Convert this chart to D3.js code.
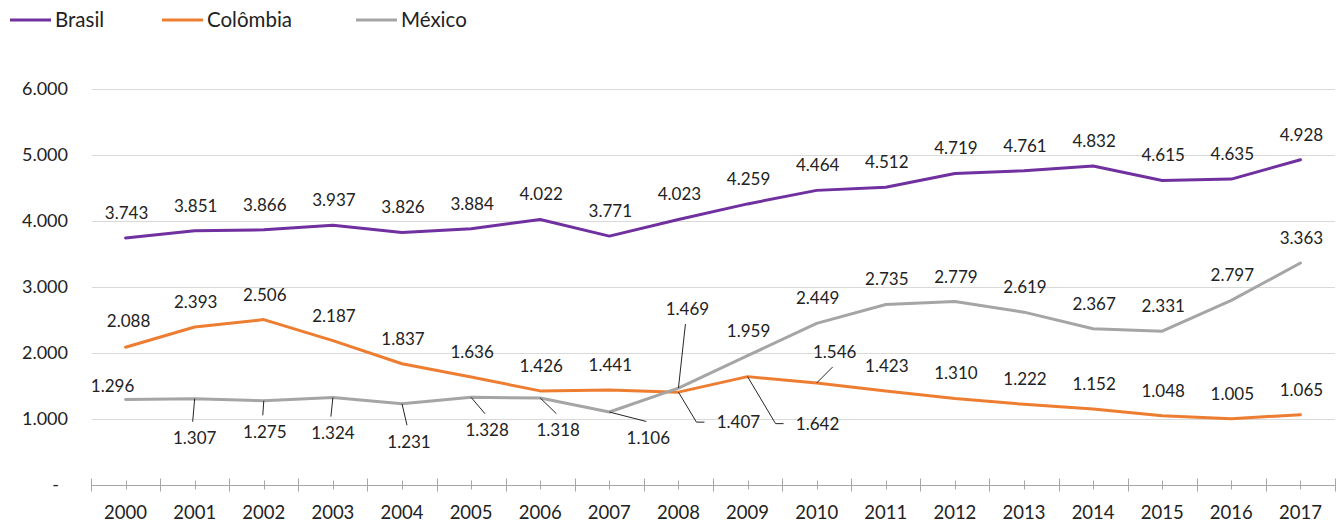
<!DOCTYPE html>
<html>
<head>
<meta charset="utf-8">
<script src="https://cdn.jsdelivr.net/npm/d3@7"></script>
<style>
  body { margin: 0; background: #ffffff; }
  text { font-family: Lato, "Open Sans", sans-serif; fill: #222222; }
</style>
</head>
<body>
<svg id="chart" width="1339" height="525"></svg>
<script>
// ---- data ----
const years = ["2000", "2001", "2002", "2003", "2004", "2005", "2006", "2007", "2008",
               "2009", "2010", "2011", "2012", "2013", "2014", "2015", "2016", "2017"];
const brasil   = [3743, 3851, 3866, 3937, 3826, 3884, 4022, 3771, 4023, 4259, 4464, 4512, 4719, 4761, 4832, 4615, 4635, 4928];
const colombia = [2088, 2393, 2506, 2187, 1837, 1636, 1426, 1441, 1407, 1642, 1546, 1423, 1310, 1222, 1152, 1048, 1005, 1065];
const mexico   = [1296, 1307, 1275, 1324, 1231, 1328, 1318, 1106, 1469, 1959, 2449, 2735, 2779, 2619, 2367, 2331, 2797, 3363];
const seriesNames = ["Brasil", "Colômbia", "México"];
const yTicks = [0, 1000, 2000, 3000, 4000, 5000, 6000];

// ---- styling / layout ----
const seriesColors = ["#7030A0", "#ED7D31", "#A5A5A5"];
const legendX = [10, 162, 356];

// Value label offsets from their point (px). Default: centred just above the point.
const labelDefault = { dx: 1, dy: -25 };
const labelPlacement = {
  "Colômbia": {
    0:  { dx: 3,  dy: -26 },
    8:  { dx: 60, dy: 30,  leader: "side" },
    9:  { dx: 70, dy: 47,  leader: "side" },
    10: { dx: 18, dy: -31, leader: "up" }
  },
  "México": {
    0: { dx: -13, dy: -13 },
    1: { dx: 0,  dy: 39.5, leader: "down" },
    2: { dx: 1,  dy: 31,   leader: "down" },
    3: { dx: 0,  dy: 35.5, leader: "down" },
    4: { dx: 7,  dy: 38,   leader: "down" },
    5: { dx: 16, dy: 33,   leader: "down" },
    6: { dx: 18, dy: 32,   leader: "down" },
    7: { dx: 39, dy: 26,   leader: "down" },
    8: { dx: 9,  dy: -79,  leader: "up" }
  }
};

const series = [
  { name: seriesNames[0], values: brasil,   color: seriesColors[0] },
  { name: seriesNames[1], values: colombia, color: seriesColors[1] },
  { name: seriesNames[2], values: mexico,   color: seriesColors[2] }
];

const ptBR = d3.formatLocale({ decimal: ",", thousands: ".", grouping: [3], currency: ["R$", ""] });
const fmt = ptBR.format(",d");

const svg = d3.select("#chart");
const plot = { left: 91, right: 1335, top: 89, bottom: 485 };

const x = d3.scaleBand().domain(years).range([plot.left, plot.right]).padding(0);
const y = d3.scaleLinear().domain([0, 6000]).range([plot.bottom, plot.top]);
const cx = i => x(years[i]) + x.bandwidth() / 2;

// ---- gridlines ----
svg.append("g")
  .selectAll("line")
  .data(yTicks.filter(d => d > 0))
  .join("line")
  .attr("x1", plot.left + 1).attr("x2", plot.right)
  .attr("y1", d => Math.round(y(d)) + 0.5).attr("y2", d => Math.round(y(d)) + 0.5)
  .attr("stroke", "#d9d9d9").attr("stroke-width", 1);

// ---- y axis labels ----
const yAxis = svg.append("g")
  .attr("transform", `translate(${plot.left},0)`)
  .call(d3.axisLeft(y).tickValues(yTicks).tickSize(0).tickPadding(23)
        .tickFormat(d => d === 0 ? "-" : fmt(d)));
yAxis.select(".domain").remove();
yAxis.selectAll("text")
  .attr("font-size", 18).attr("font-family", null).attr("fill", null)
  .attr("dx", d => d === 0 ? -9 : 0);

// ---- x axis: line, boundary and centre ticks, year labels ----
const xBase = Math.round(y(0)) + 0.5;
const idx = d3.scaleLinear().domain([0, years.length]).range([plot.left, plot.right]);
const xAxis = svg.append("g").attr("transform", `translate(0,${xBase})`);
xAxis.append("line")
  .attr("x1", plot.left).attr("x2", plot.right)
  .attr("stroke", "#a6a6a6").attr("stroke-width", 1);
xAxis.selectAll("line.major")
  .data(d3.range(years.length + 1))
  .join("line").attr("class", "major")
  .attr("x1", d => Math.round(idx(d)) + 0.5).attr("x2", d => Math.round(idx(d)) + 0.5)
  .attr("y1", -7).attr("y2", 6)
  .attr("stroke", "#a6a6a6").attr("stroke-width", 1);
xAxis.selectAll("line.minor")
  .data(years)
  .join("line").attr("class", "minor")
  .attr("x1", d => Math.round(x(d) + x.bandwidth() / 2) + 0.5)
  .attr("x2", d => Math.round(x(d) + x.bandwidth() / 2) + 0.5)
  .attr("y1", -5).attr("y2", 4)
  .attr("stroke", "#a6a6a6").attr("stroke-width", 1);
xAxis.selectAll("text")
  .data(years)
  .join("text")
  .attr("x", d => x(d) + x.bandwidth() / 2)
  .attr("y", 27)
  .attr("dy", "0.35em")
  .attr("text-anchor", "middle")
  .attr("font-size", 18.5)
  .text(d => d);

// ---- series lines ----
const line = d3.line().x((d, i) => cx(i)).y(d => y(d));
svg.append("g")
  .selectAll("path")
  .data(series)
  .join("path")
  .attr("d", s => line(s.values))
  .attr("fill", "none")
  .attr("stroke", s => s.color)
  .attr("stroke-width", 3)
  .attr("stroke-linejoin", "round")
  .attr("stroke-linecap", "round");

// ---- value labels and leader lines ----
const labels = [];
series.forEach(s => {
  s.values.forEach((v, i) => {
    const p = (labelPlacement[s.name] && labelPlacement[s.name][i]) || labelDefault;
    const px = cx(i), py = y(v);
    labels.push({ value: v, px, py, lx: px + p.dx, ly: py + p.dy, leader: p.leader });
  });
});

const leaderPath = d => {
  if (d.leader === "down") return `M${d.px},${d.py}L${d.lx - 2},${d.ly - 16.5}`;
  if (d.leader === "up")   return `M${d.px},${d.py}L${d.lx - 2},${d.ly + 15}`;
  if (d.leader === "side") return `M${d.px},${d.py}L${d.lx - 42},${d.ly}L${d.lx - 34},${d.ly}`;
  return null;
};

svg.append("g")
  .selectAll("path")
  .data(labels.filter(d => d.leader))
  .join("path")
  .attr("d", leaderPath)
  .attr("fill", "none")
  .attr("stroke", "#262626")
  .attr("stroke-width", 1);

svg.append("g")
  .selectAll("text")
  .data(labels)
  .join("text")
  .attr("x", d => d.lx)
  .attr("y", d => d.ly)
  .attr("dy", "0.35em")
  .attr("text-anchor", "middle")
  .attr("font-size", 17)
  .text(d => fmt(d.value));

// ---- legend ----
const legend = svg.append("g")
  .selectAll("g")
  .data(series)
  .join("g")
  .attr("transform", (s, i) => `translate(${legendX[i]},20)`);
legend.append("line")
  .attr("x1", 0).attr("x2", 41)
  .attr("stroke", s => s.color).attr("stroke-width", 3);
legend.append("text")
  .attr("x", 45).attr("dy", "0.35em")
  .attr("font-size", 20.5)
  .text(s => s.name);
</script>
</body>
</html>
